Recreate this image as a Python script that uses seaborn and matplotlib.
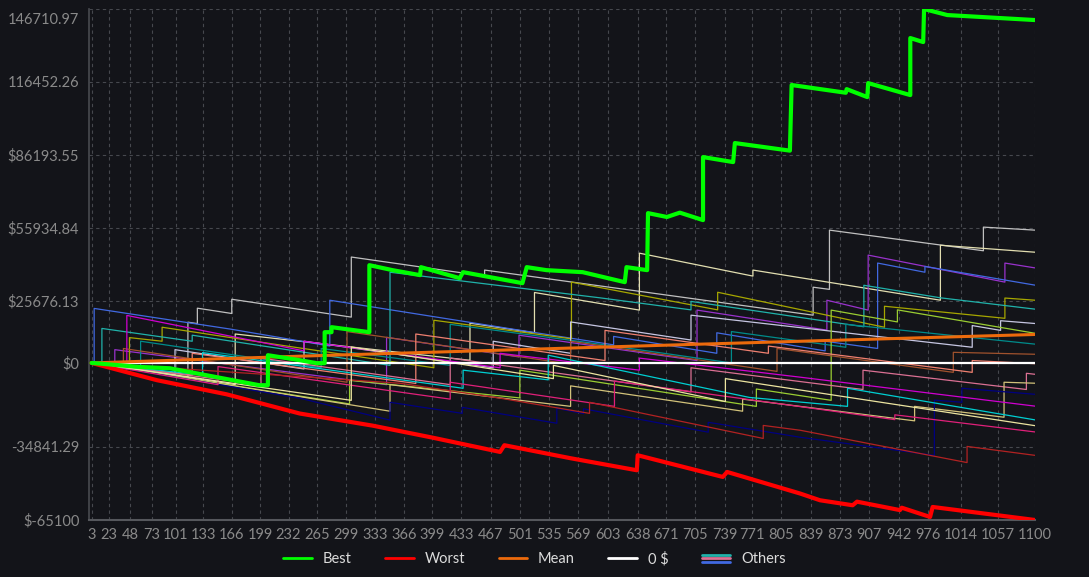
import numpy as np
import pandas as pd
import matplotlib
matplotlib.use("Agg")
import matplotlib.pyplot as plt
import seaborn as sns
from matplotlib.lines import Line2D
from matplotlib.legend_handler import HandlerBase
from matplotlib.transforms import ScaledTranslation

# ---- data (trade number, cumulative P&L in $) ----
best_x = [3, 59, 94, 150, 198, 208, 208, 245, 265, 274, 274, 282, 282, 326, 326, 353, 385, 386, 431, 435,
          504, 509, 532, 574, 623, 625, 649, 650, 672, 687, 714, 714, 749, 751, 815, 817, 880, 881, 905, 906,
          955, 955, 970, 971, 998, 1100]
best_y = [0, -1650, -2200, -6000, -9230, -9230, 3210, 1140, -100, -100, 12750, 12750, 14830, 12750, 40530,
          38460, 36390, 39710, 35140, 37630, 33070, 39710, 38460, 37630, 33490, 39710, 38460, 62100, 60500,
          62300, 59200, 85330, 83260, 91140, 88000, 115200, 112000, 113500, 110200, 116000, 111030, 134670,
          133010, 146710.97, 144200, 142130]

worst_x = [3, 79, 160, 245, 330, 400, 478, 483, 560, 637, 638, 737, 742, 827, 850, 888, 893, 943, 945, 978, 981, 1100]
worst_y = [0, -7150, -13000, -20960, -26000, -31000, -36890, -34100, -39500, -44480, -38260, -47250, -45180,
           -54140, -56920, -58990, -57500, -61000, -60000, -63840, -59700, -65100]

mean_x = [3, 245, 710, 1100]
mean_y = [0, 2800, 7780, 11800]

zero_x = [3, 1100]
zero_y = [0, 0]

silver_x = [3, 115, 115, 126, 126, 166, 166, 305, 305, 460, 460, 842, 842, 861, 861, 1040, 1040, 1100]
silver_y = [0, -6000, 16900, 16300, 22700, 20500, 26400, 19000, 43900, 36000, 38500, 19800, 31400, 30500,
            55050, 46500, 56300, 55050]

beige_x = [3, 170, 170, 443, 443, 518, 518, 640, 640, 772, 772, 990, 990, 1100]
beige_y = [0, -9000, 12000, 1100, 16500, 12500, 29200, 21900, 45500, 36000, 38500, 26000, 48800, 45900]

orchid_x = [3, 30, 30, 346, 346, 500, 500, 707, 707, 858, 858, 906, 906, 1065, 1065, 1100]
orchid_y = [0, -1500, 5500, -9000, 10600, 2500, 11500, 1000, 21900, 13600, 26000, 21900, 44700, 33500, 41400, 39400]

royal_x = [3, 6, 6, 165, 280, 280, 493, 610, 610, 730, 730, 856, 856, 917, 917, 972, 972, 1100]
royal_y = [0, 0, 22600, 14000, 7000, 26000, 14000, 7500, 11000, 4000, 12500, 5000, 9000, 6000, 41400, 37600, 40000, 32250]

olive_x = [3, 47, 47, 85, 85, 230, 401, 401, 561, 561, 731, 731, 925, 925, 1065, 1065, 1100]
olive_y = [0, -1500, 10500, 9000, 14800, 7000, -2000, 17700, 10000, 33500, 22000, 29300, 14800, 23500, 18500, 26900, 26000]

seagreen_x = [3, 15, 15, 120, 120, 350, 350, 594, 700, 700, 901, 901, 990, 1100]
seagreen_y = [0, -500, 14300, 9000, 11500, -1000, 37600, 27000, 22000, 25500, 15000, 32200, 27000, 22300]

teal_x = [3, 60, 60, 270, 270, 420, 420, 600, 747, 747, 880, 880, 1100]
teal_y = [0, -3000, 9000, -2000, 6000, -1000, 16000, 7500, 0, 13000, 6500, 16000, 7800]

lavender_x = [3, 100, 100, 250, 250, 470, 470, 560, 560, 700, 700, 1027, 1027, 1060, 1060, 1100]
lavender_y = [0, -5000, 5500, -2500, 9000, -2000, 9000, 4000, 17000, 9500, 19800, 6500, 15500, 13500, 17500, 16350]

ygreen_x = [3, 303, 303, 501, 501, 776, 776, 863, 863, 940, 940, 1100]
ygreen_y = [0, -17000, -7200, -14500, -3000, -18000, -10800, -15500, 21900, 17000, 22000, 12300]

sienna_x = [3, 40, 40, 300, 300, 560, 560, 800, 800, 1005, 1005, 1100]
sienna_y = [0, -1000, 6000, -8000, 13000, -500, 9000, -3500, 6000, -3900, 4400, 3600]

salmon_x = [3, 120, 120, 380, 380, 600, 600, 790, 790, 1027, 1027, 1100]
salmon_y = [0, -5000, 4000, -8500, 12000, 1000, 13500, 4000, 7000, -3900, 1000, -300]

pvred_x = [3, 200, 200, 420, 420, 700, 700, 900, 900, 1090, 1090, 1100]
pvred_y = [0, -9000, 2000, -9000, 2000, -12000, -2000, -11000, -3000, -11000, -4300, -4700]

khaki_x = [3, 350, 350, 560, 560, 760, 760, 960, 960, 1064, 1064, 1100]
khaki_y = [0, -20000, -9000, -18000, -9500, -20000, -15000, -24000, -18000, -22500, -8000, -8400]

navy_x = [3, 245, 350, 350, 434, 434, 544, 544, 575, 575, 720, 720, 827, 983, 983, 1015, 1015, 1100]
navy_y = [0, -14600, -23700, -16300, -20900, -18400, -25000, -18800, -21000, -19000, -28700, -24600,
          -30800, -38300, -15400, -16300, -10500, -13000]

magenta_x = [3, 44, 44, 250, 250, 478, 478, 640, 640, 827, 1100]
magenta_y = [0, -2500, 19700, 5000, 9000, -2000, 4000, -3000, 2000, -5900, -17900]

cyan_x = [3, 132, 132, 435, 435, 534, 534, 768, 882, 882, 1100]
cyan_y = [0, -5000, 4300, -10500, -3000, -7000, 3200, -14300, -18000, -10500, -23600]

dpink_x = [3, 150, 150, 420, 420, 611, 611, 937, 937, 1100]
dpink_y = [0, -9000, -1500, -15000, -8000, -18000, -7500, -23500, -21500, -28600]

firebrick_x = [3, 361, 478, 582, 582, 784, 784, 827, 1021, 1021, 1100]
firebrick_y = [0, -8400, -14600, -20900, -16300, -31300, -25900, -27900, -41300, -34600, -38300]

khaki2_x = [3, 305, 305, 540, 540, 740, 740, 1100]
khaki2_y = [0, -15500, 6600, -6500, -1000, -16000, -6500, -26000]

others = {
    "silver": (silver_x, silver_y, "#c0c0c0"),
    "beige": (beige_x, beige_y, "#e2deb0"),
    "orchid": (orchid_x, orchid_y, "#9932cc"),
    "royal": (royal_x, royal_y, "#4169e1"),
    "olive": (olive_x, olive_y, "#a6a600"),
    "seagreen": (seagreen_x, seagreen_y, "#20b2aa"),
    "teal": (teal_x, teal_y, "#008b8b"),
    "lavender": (lavender_x, lavender_y, "#c6c6e2"),
    "ygreen": (ygreen_x, ygreen_y, "#9acd32"),
    "sienna": (sienna_x, sienna_y, "#a0522d"),
    "salmon": (salmon_x, salmon_y, "#f08070"),
    "pvred": (pvred_x, pvred_y, "#db7093"),
    "khaki": (khaki_x, khaki_y, "#d2c27a"),
    "navy": (navy_x, navy_y, "#000080"),
    "magenta": (magenta_x, magenta_y, "#d000d0"),
    "cyan": (cyan_x, cyan_y, "#00ced1"),
    "dpink": (dpink_x, dpink_y, "#e0207a"),
    "firebrick": (firebrick_x, firebrick_y, "#b22222"),
    "khaki2": (khaki2_x, khaki2_y, "#ece4a0"),
}

x_ticks = [3, 23, 48, 73, 101, 133, 166, 199, 232, 265, 299, 333, 366, 399, 433, 467, 501, 535, 569, 603,
           638, 671, 705, 739, 771, 805, 839, 873, 907, 942, 976, 1014, 1057, 1100]
y_ticks = [-65100, -34841.29, 0, 25676.13, 55934.84, 86193.55, 116452.26, 146710.97]
y_tick_labels = ["$-65100", "-34841.29", "$0", "$25676.13", "$55934.84", "$86193.55", "116452.26", "146710.97"]

legend_labels = ["Best", "Worst", "Mean", "0 $", "Others"]
others_legend_colors = ["#20b2aa", "#db7093", "#4169e1"]

# ---- style ----
BG = "#131419"
sns.set_theme(style="dark")
plt.rcParams["font.family"] = ["Lato", "DejaVu Sans"]

rows = []
for name, (xs, ys, _) in others.items():
    for xv, yv in zip(xs, ys):
        rows.append({"run": name, "trade": xv, "pnl": yv})
others_df = pd.DataFrame(rows)
palette = {name: c for name, (_, _, c) in others.items()}

fig = plt.figure(figsize=(10.89, 5.77), dpi=100, facecolor=BG)
ax = fig.add_axes([89 / 1089, 57 / 577, (1035 - 89) / 1089, (520 - 9) / 577])
ax.set_facecolor(BG)

sns.lineplot(data=others_df, x="trade", y="pnl", hue="run", palette=palette, estimator=None,
             sort=False, linewidth=0.9, legend=False, ax=ax, zorder=2)
sns.lineplot(x=zero_x, y=zero_y, color="white", linewidth=1.6, estimator=None, sort=False, ax=ax, zorder=3)
sns.lineplot(x=mean_x, y=mean_y, color="#ec6a0c", linewidth=2.2, estimator=None, sort=False, ax=ax, zorder=4)
sns.lineplot(x=worst_x, y=worst_y, color="#ff0000", linewidth=3.0, estimator=None, sort=False, ax=ax, zorder=5)
sns.lineplot(x=best_x, y=best_y, color="#00ff00", linewidth=3.0, estimator=None, sort=False, ax=ax, zorder=6)

ax.set_xlim(0, 1100)
ax.set_ylim(-65100, 146710.97)
ax.set_xticks(x_ticks)
ax.set_xticklabels([str(t) for t in x_ticks])
ax.set_yticks(y_ticks)
ax.set_yticklabels(y_tick_labels)
ax.set_xlabel("")
ax.set_ylabel("")
ax.tick_params(axis="both", colors="#7c7c7c", labelcolor="#8a8a8a", labelsize=10.5, length=5, width=1,
               pad=2)
ax.tick_params(axis="x", length=4, pad=2)
top_lab = ax.get_yticklabels()[-1]
top_lab.set_transform(top_lab.get_transform() + ScaledTranslation(0, -0.09, fig.dpi_scale_trans))

ax.grid(True, color="#46484e", linestyle=(0, (3, 3)), linewidth=0.8)
for side in ["top", "right"]:
    ax.spines[side].set_visible(False)
ax.spines["left"].set_color("#46484e")
ax.spines["bottom"].set_color("#55575c")
ax.spines["bottom"].set_linestyle((0, (2, 1)))
ax.spines["bottom"].set_linewidth(1.5)


class HandlerStack(HandlerBase):
    def __init__(self, colors):
        super().__init__()
        self.colors = colors

    def create_artists(self, legend, orig_handle, xdescent, ydescent, width, height, fontsize, trans):
        arts = []
        mid = (height - ydescent) / 2
        for i, c in enumerate(self.colors):
            y = mid + (1 - i) * height * 0.36
            ln = Line2D([-xdescent, -xdescent + width], [y, y], color=c, linewidth=2.0, transform=trans)
            arts.append(ln)
        return arts


handles = [Line2D([], [], color="#00ff00", lw=2),
           Line2D([], [], color="#ff0000", lw=2),
           Line2D([], [], color="#ec6a0c", lw=2),
           Line2D([], [], color="white", lw=2),
           Line2D([], [], color="none")]
leg = fig.legend(handles, legend_labels, loc="center", bbox_to_anchor=(0.491, 0.031), ncol=5,
                 frameon=False, fontsize=10.5, handlelength=1.95, handletextpad=0.75, columnspacing=2.3,
                 handler_map={handles[4]: HandlerStack(others_legend_colors)})
for t in leg.get_texts():
    t.set_color("#dcdcdc")

fig.savefig("out.png", dpi=100, facecolor=BG)
